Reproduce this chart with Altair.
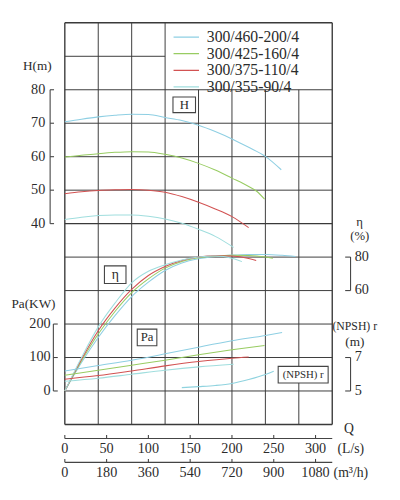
import altair as alt
import pandas as pd

# ---------------- data ----------------
SERIES = ["300/460-200/4", "300/425-160/4", "300/375-110/4", "300/355-90/4"]
COLORS = ["#8ecfe3", "#98cc62", "#d25252", "#a0dede"]

# Head H (m) vs Q (L/s)
H1_Q = [0, 20, 40, 60, 80, 100, 120, 140, 160, 180, 200, 220, 240, 259]
H1_V = [70.4, 71.2, 71.9, 72.4, 72.7, 72.6, 71.7, 70.8, 69.4, 67.5, 65.3, 62.8, 60.1, 56.1]
H2_Q = [0, 20, 40, 60, 80, 100, 120, 140, 160, 180, 200, 220, 230, 239]
H2_V = [59.9, 60.4, 60.9, 61.3, 61.5, 61.4, 60.7, 59.6, 58.0, 56.0, 53.6, 51.1, 49.6, 47.3]
H3_Q = [0, 20, 40, 60, 80, 100, 120, 140, 160, 180, 200, 220]
H3_V = [48.9, 49.5, 49.9, 50.1, 50.2, 50.0, 49.4, 48.1, 46.4, 44.4, 42.1, 38.8]
H4_Q = [0, 20, 40, 60, 80, 100, 120, 140, 160, 180, 202]
H4_V = [41.2, 41.9, 42.4, 42.6, 42.6, 42.2, 41.4, 40.1, 38.3, 36.2, 32.9]

# Efficiency eta (%) vs Q
E1_Q = [0, 20, 40, 60, 80, 100, 120, 140, 160, 180, 200, 220, 240, 260, 276]
E1_V = [0, 17, 32, 45, 56.4, 65, 72, 76.5, 79, 80.4, 81.2, 81.6, 81.6, 81.1, 80.4]
E2_Q = [0, 20, 40, 60, 80, 100, 120, 140, 160, 180, 200, 220, 240, 249]
E2_V = [0, 18, 34, 47.5, 58.8, 67, 73.4, 77.4, 79.6, 80.7, 81.1, 80.9, 80, 79.3]
E3_Q = [0, 20, 40, 60, 80, 100, 120, 140, 160, 180, 200, 220, 229]
E3_V = [0, 19, 36, 49.5, 60.7, 69, 74.4, 78, 80, 80.8, 80.6, 79.2, 78]
E4_Q = [0, 20, 40, 60, 80, 100, 120, 140, 160, 180, 200, 212]
E4_V = [0, 20, 38.3, 52.5, 64.6, 71.5, 75.4, 78.3, 80, 80.6, 79.3, 77.3]

# Shaft power Pa (kW) vs Q
P1_Q = [0, 40, 80, 120, 160, 200, 240, 260]
P1_V = [60, 76, 92, 111, 131, 150, 166, 175]
P2_Q = [0, 40, 80, 120, 160, 200, 239]
P2_V = [47, 62, 77, 92, 108, 123, 136]
P3_Q = [0, 40, 80, 120, 160, 200, 220]
P3_V = [35, 46, 60, 75, 88, 98, 101.5]
P4_Q = [0, 40, 80, 120, 160, 202]
P4_V = [29, 38, 50, 62, 72, 80]

# (NPSH)r (m) vs Q
N_Q = [140, 160, 180, 200, 220, 240, 250]
N_V = [5.2, 5.26, 5.33, 5.45, 5.68, 5.98, 6.18]

# axis ticks
H_TICKS = [40, 50, 60, 70, 80]
PA_TICKS = [0, 100, 200]
ETA_TICKS = [60, 80]
NPSH_TICKS = [5, 7]
QLS_TICKS = [0, 50, 100, 150, 200, 250, 300]
QM3_TICKS = [0, 180, 360, 540, 720, 900, 1080]

# grid: Q every 40 L/s, 12 rows
GRID_Q = [0, 40, 80, 120, 160, 200, 240, 280, 320]
GRID_ROWS = list(range(13))

# labelled boxes
BOX_LABELS = ["H", "η", "Pa", "(NPSH) r"]
BOX_Q = [142.9, 60.3, 98.4, 285.2]
BOX_ROW = [9.55, 4.475, 2.6, 1.486]

# ---------------- scales / conversion to grid rows ----------------
W, HT = 273, 410
QMAX, NROWS = 320, 12


def row_h(v): return (v + 20) / 10
def row_pa(v): return 1 + v / 100
def row_eta(v): return 1 + v / 20
def row_npsh(v): return 1 + (v - 5) / 2


xs = alt.Scale(domain=[0, QMAX], nice=False, zero=False)
ys = alt.Scale(domain=[0, NROWS], nice=False, zero=False)
FONT = "'Liberation Serif', 'DejaVu Serif', serif"
TXT = "#2b2b2b"

# ---------------- grid ----------------
seg = []
legend_q, legend_row = 120, 10
for q in GRID_Q:
    top = NROWS if (q <= legend_q or q == QMAX) else legend_row
    w = 1.4 if q in (0, QMAX) else 1.0
    seg.append(dict(q=q, q2=q, r=0, r2=top, w=w))
for r in GRID_ROWS:
    if r == NROWS - 1:
        seg.append(dict(q=0, q2=legend_q, r=r, r2=r, w=1.0))
    else:
        w = 1.5 if r in (0, 6, NROWS) else 1.0
        seg.append(dict(q=0, q2=QMAX, r=r, r2=r, w=w))
grid = alt.Chart(pd.DataFrame(seg)).mark_rule(color="#3a3a3a").encode(
    x=alt.X("q:Q", scale=xs, axis=None), x2="q2:Q",
    y=alt.Y("r:Q", scale=ys, axis=None), y2="r2:Q",
    strokeWidth=alt.StrokeWidth("w:Q", scale=None),
)

# ---------------- curves ----------------
rows = []
sets = [
    ("H", [(H1_Q, H1_V), (H2_Q, H2_V), (H3_Q, H3_V), (H4_Q, H4_V)], row_h),
    ("E", [(E1_Q, E1_V), (E2_Q, E2_V), (E3_Q, E3_V), (E4_Q, E4_V)], row_eta),
    ("P", [(P1_Q, P1_V), (P2_Q, P2_V), (P3_Q, P3_V), (P4_Q, P4_V)], row_pa),
]
for kind, curves, fn in sets:
    for s, (qq, vv) in zip(SERIES, curves):
        for i, (q, v) in enumerate(zip(qq, vv)):
            rows.append(dict(series=s, kind=kind, key=kind + s, i=i, q=q, row=fn(v)))
cdf = pd.DataFrame(rows)

lines = alt.Chart(cdf).mark_line(strokeWidth=1.05, interpolate="monotone").encode(
    x=alt.X("q:Q", scale=xs, axis=None),
    y=alt.Y("row:Q", scale=ys, axis=None),
    detail="key:N",
    order="i:Q",
    color=alt.Color(
        "series:N",
        scale=alt.Scale(domain=SERIES, range=COLORS),
        sort=SERIES,
        legend=alt.Legend(
            title=None, orient="none", legendX=110, legendY=7, padding=0,
            symbolType="stroke", symbolSize=676, symbolStrokeWidth=1.3,
            clipHeight=15, rowPadding=0, labelOffset=7,
            labelFont=FONT, labelFontSize=16, labelColor=TXT, labelLimit=300,
        ),
    ),
)

ndf = pd.DataFrame(dict(q=N_Q, row=[row_npsh(v) for v in N_V], i=range(len(N_Q))))
npsh = alt.Chart(ndf).mark_line(strokeWidth=1.1, interpolate="monotone", color="#8fd3df").encode(
    x=alt.X("q:Q", scale=xs, axis=None), y=alt.Y("row:Q", scale=ys, axis=None), order="i:Q"
)

# ---------------- labelled boxes ----------------
BOX_W = [23, 22, 20, 51]
BOX_H = [16, 18, 17, 17]
pxq, pxr = W / QMAX, HT / NROWS
bdf = pd.DataFrame(dict(
    label=BOX_LABELS, q=BOX_Q, row=BOX_ROW,
    q0=[q - w / 2 / pxq for q, w in zip(BOX_Q, BOX_W)],
    q1=[q + w / 2 / pxq for q, w in zip(BOX_Q, BOX_W)],
    r0=[r - h / 2 / pxr for r, h in zip(BOX_ROW, BOX_H)],
    r1=[r + h / 2 / pxr for r, h in zip(BOX_ROW, BOX_H)],
    fs=[13, 14, 13, 11],
))
boxes = alt.Chart(bdf).mark_rect(fill="white", stroke="#444", strokeWidth=1.1).encode(
    x=alt.X("q0:Q", scale=xs, axis=None), x2="q1:Q",
    y=alt.Y("r0:Q", scale=ys, axis=None), y2="r1:Q",
)
box_txt = alt.Chart(bdf).mark_text(font=FONT, color=TXT, baseline="middle").encode(
    x=alt.X("q:Q", scale=xs, axis=None), y=alt.Y("row:Q", scale=ys, axis=None),
    text="label:N", size=alt.Size("fs:Q", scale=None),
)

# ---------------- vertical axes (custom, bracket style) ----------------
def vaxis(ticks, fn, x_line, tick_dir, label_x, align):
    df = pd.DataFrame(dict(v=ticks, row=[fn(t) for t in ticks], t=[str(t) for t in ticks]))
    rng = pd.DataFrame(dict(lo=[min(df.row)], hi=[max(df.row)]))
    line = alt.Chart(rng).mark_rule(color="#444", strokeWidth=1.1).encode(
        x=alt.value(x_line), y=alt.Y("lo:Q", scale=ys, axis=None), y2="hi:Q")
    tk = alt.Chart(df).mark_rule(color="#444", strokeWidth=1.1).encode(
        x=alt.value(x_line), x2=alt.value(x_line + tick_dir),
        y=alt.Y("row:Q", scale=ys, axis=None))
    lab = alt.Chart(df).mark_text(font=FONT, fontSize=14.5, color=TXT, align=align,
                                  baseline="middle").encode(
        x=alt.value(label_x), y=alt.Y("row:Q", scale=ys, axis=None), text="t:N")
    return [line, tk, lab]

axes_v = []
axes_v += vaxis(H_TICKS, row_h, -15, 4, -20, "right")
axes_v += vaxis(PA_TICKS, row_pa, -11.7, 4.5, -14.5, "right")
axes_v += vaxis(ETA_TICKS, row_eta, W + 18.7, -5.5, W + 23, "left")
axes_v += vaxis(NPSH_TICKS, row_npsh, W + 18.7, -5.5, W + 23, "left")

# ---------------- bottom axes (ticks point up) ----------------
def haxis(labels, qvals, y_line):
    df = pd.DataFrame(dict(q=qvals, t=[str(t) for t in labels]))
    ln = alt.Chart(pd.DataFrame(dict(a=[0], b=[QMAX]))).mark_rule(color="#444", strokeWidth=1.1).encode(
        x=alt.X("a:Q", scale=xs, axis=None), x2="b:Q", y=alt.value(y_line))
    tk = alt.Chart(df).mark_rule(color="#444", strokeWidth=1.1).encode(
        x=alt.X("q:Q", scale=xs, axis=None), y=alt.value(y_line - 3.5), y2=alt.value(y_line))
    lab = alt.Chart(df).mark_text(font=FONT, fontSize=14.5, color=TXT, baseline="middle").encode(
        x=alt.X("q:Q", scale=xs, axis=None), y=alt.value(y_line + 10.5), text="t:N")
    return [ln, tk, lab]

axes_h = []
axes_h += haxis(QLS_TICKS, QLS_TICKS, 424.3)
axes_h += haxis(QM3_TICKS, [m / 3.6 for m in QM3_TICKS], 448.7)

# ---------------- axis titles ----------------
def title(text, x, y, align="center", fs=13.5):
    return alt.Chart(pd.DataFrame({"t": [text]})).mark_text(
        font=FONT, fontSize=fs, color=TXT, align=align, baseline="middle").encode(
        x=alt.value(x), y=alt.value(y), text="t:N")

titles = [
    title("H(m)", -13.5, 44.3, "right"),
    title("Pa(KW)", -9.5, 287, "right"),
    title("η", 301, 203, "center", 13),
    title("(%)", 301, 218, "center", 13),
    title("(NPSH) r", 296, 310, "center", 12),
    title("(m)", 296, 326, "center"),
    title("Q", 290, 415, "center", 14),
    title("(L/s)", 292, 434.8, "center", 14),
    title("(m³/h)", 292, 459.2, "center", 14),
]

chart = alt.layer(
    grid, lines, npsh, boxes, box_txt, *axes_v, *axes_h, *titles
).properties(
    width=W, height=HT,
    padding={"left": 58, "top": 10, "right": 61, "bottom": 72},
    autosize=alt.AutoSizeParams(type="none"),
    background="white",
).configure_view(stroke=None)

chart.save("out.html", embed_options={"renderer": "svg", "actions": False})
